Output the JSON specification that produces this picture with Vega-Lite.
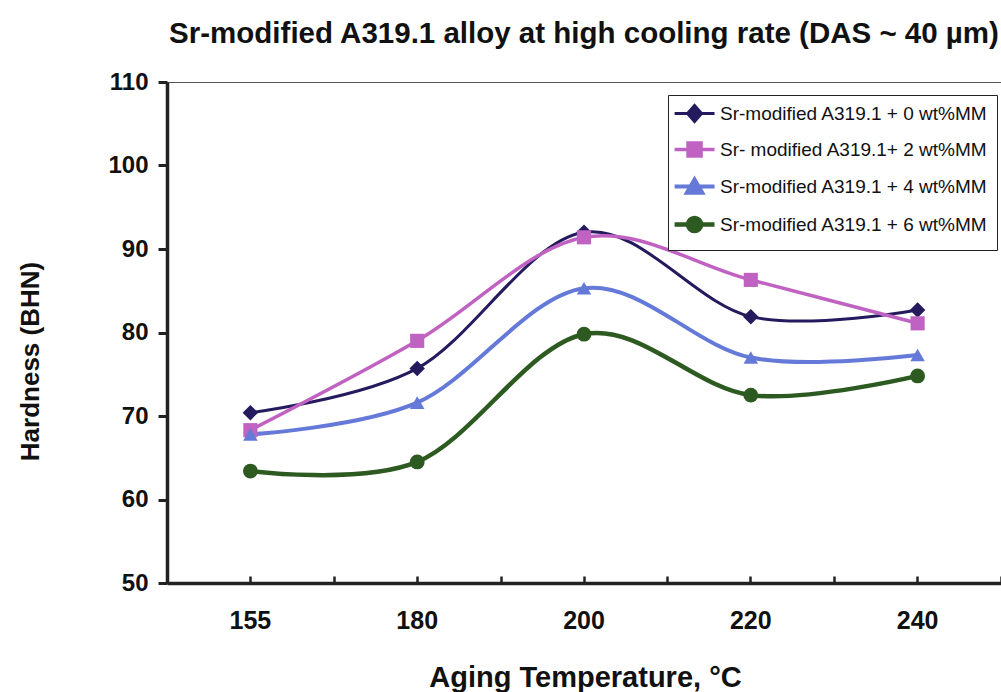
{
  "$schema": "https://vega.github.io/schema/vega-lite/v6.json",
  "width": 834,
  "height": 501,
  "autosize": "none",
  "padding": {"left": 167, "top": 82, "right": 0, "bottom": 109},
  "background": "white",
  "config": {
    "font": "Liberation Sans",
    "view": {"stroke": "#555555", "strokeWidth": 1}
  },
  "title": {
    "text": "Sr-modified A319.1 alloy at high cooling rate (DAS ~ 40 µm)",
    "fontSize": 29.5,
    "fontWeight": "bold",
    "color": "#111111",
    "anchor": "middle",
    "frame": "group",
    "offset": 21
  },
  "data": {
    "values": [
      {"series": "Sr-modified A319.1 + 0 wt%MM", "temp": "155", "hardness": 70.4},
      {"series": "Sr-modified A319.1 + 0 wt%MM", "temp": "180", "hardness": 75.7},
      {"series": "Sr-modified A319.1 + 0 wt%MM", "temp": "200", "hardness": 92.0},
      {"series": "Sr-modified A319.1 + 0 wt%MM", "temp": "220", "hardness": 81.9},
      {"series": "Sr-modified A319.1 + 0 wt%MM", "temp": "240", "hardness": 82.7},
      {"series": "Sr- modified A319.1+ 2 wt%MM", "temp": "155", "hardness": 68.3},
      {"series": "Sr- modified A319.1+ 2 wt%MM", "temp": "180", "hardness": 79.0},
      {"series": "Sr- modified A319.1+ 2 wt%MM", "temp": "200", "hardness": 91.4},
      {"series": "Sr- modified A319.1+ 2 wt%MM", "temp": "220", "hardness": 86.3},
      {"series": "Sr- modified A319.1+ 2 wt%MM", "temp": "240", "hardness": 81.1},
      {"series": "Sr-modified A319.1 + 4 wt%MM", "temp": "155", "hardness": 67.8},
      {"series": "Sr-modified A319.1 + 4 wt%MM", "temp": "180", "hardness": 71.6},
      {"series": "Sr-modified A319.1 + 4 wt%MM", "temp": "200", "hardness": 85.3},
      {"series": "Sr-modified A319.1 + 4 wt%MM", "temp": "220", "hardness": 77.0},
      {"series": "Sr-modified A319.1 + 4 wt%MM", "temp": "240", "hardness": 77.3},
      {"series": "Sr-modified A319.1 + 6 wt%MM", "temp": "155", "hardness": 63.4},
      {"series": "Sr-modified A319.1 + 6 wt%MM", "temp": "180", "hardness": 64.5},
      {"series": "Sr-modified A319.1 + 6 wt%MM", "temp": "200", "hardness": 79.8},
      {"series": "Sr-modified A319.1 + 6 wt%MM", "temp": "220", "hardness": 72.5},
      {"series": "Sr-modified A319.1 + 6 wt%MM", "temp": "240", "hardness": 74.8}
    ]
  },
  "encoding": {
    "y": {
      "field": "hardness",
      "type": "quantitative",
      "scale": {"domain": [50, 110], "nice": false, "zero": false},
      "axis": {
        "title": "Hardness (BHN)",
        "titleFontSize": 26,
        "titleFontWeight": "bold",
        "titleColor": "#111111",
        "titleX": -137,
        "titleY": 279,
        "titleAngle": -90,
        "titleBaseline": "middle",
        "titleAlign": "center",
        "values": [50, 60, 70, 80, 90, 100, 110],
        "labelFontSize": 24,
        "labelFontWeight": "bold",
        "labelColor": "#111111",
        "labelPadding": 10,
        "tickSize": 9,
        "tickWidth": 3,
        "tickColor": "#222222",
        "domainColor": "#222222",
        "domainWidth": 3.5,
        "grid": false
      }
    },
    "color": {
      "field": "series",
      "type": "nominal",
      "scale": {
        "domain": ["Sr-modified A319.1 + 0 wt%MM", "Sr- modified A319.1+ 2 wt%MM", "Sr-modified A319.1 + 4 wt%MM", "Sr-modified A319.1 + 6 wt%MM"],
        "range": ["#241B5E", "#C062C2", "#6479D8", "#2C5A20"]
      }
    }
  },
  "layer": [
    {
      "mark": {"type": "line", "interpolate": "cardinal", "tension": 0},
      "encoding": {
        "x": {
          "field": "temp",
          "type": "ordinal",
          "sort": ["155", "180", "200", "220", "240"],
          "scale": {"type": "band", "paddingInner": 0, "paddingOuter": 0},
          "axis": {
            "orient": "bottom",
            "title": "Aging Temperature, °C",
            "titleFontSize": 29,
            "titleFontWeight": "bold",
            "titleColor": "#111111",
            "titleX": 418,
            "titleY": 103,
            "titleBaseline": "alphabetic",
            "titleAlign": "center",
            "labelFontSize": 25,
            "labelFontWeight": "bold",
            "labelColor": "#111111",
            "labelAngle": 0,
            "labelPadding": 32,
            "tickBand": "center",
            "tickSize": -7,
            "tickWidth": 2.5,
            "tickColor": "#222222",
            "domainColor": "#222222",
            "domainWidth": 3.5,
            "grid": false
          }
        },
        "strokeWidth": {
          "field": "series",
          "type": "nominal",
          "scale": {
            "domain": ["Sr-modified A319.1 + 0 wt%MM", "Sr- modified A319.1+ 2 wt%MM", "Sr-modified A319.1 + 4 wt%MM", "Sr-modified A319.1 + 6 wt%MM"],
            "range": [3, 4.5, 3, 3]
          },
          "legend": null
        }
      }
    },
    {
      "transform": [{"filter": {"field": "series", "equal": "Sr-modified A319.1 + 0 wt%MM"}}],
      "mark": {"type": "point", "shape": "diamond", "filled": true, "size": 240, "opacity": 1},
      "encoding": {
        "x": {
          "field": "temp",
          "type": "ordinal",
          "sort": ["155", "180", "200", "220", "240"],
          "axis": {
            "orient": "bottom",
            "title": null,
            "labels": false,
            "domain": false,
            "grid": false,
            "tickBand": "extent",
            "tickSize": -7,
            "tickWidth": 2.5,
            "tickColor": "#222222"
          }
        }
      }
    },
    {
      "transform": [{"filter": {"field": "series", "equal": "Sr- modified A319.1+ 2 wt%MM"}}],
      "mark": {"type": "point", "shape": "square", "filled": true, "size": 200, "opacity": 1},
      "encoding": {
        "x": {"field": "temp", "type": "ordinal", "sort": ["155", "180", "200", "220", "240"], "axis": null}
      }
    },
    {
      "transform": [{"filter": {"field": "series", "equal": "Sr-modified A319.1 + 4 wt%MM"}}],
      "mark": {"type": "point", "shape": "triangle-up", "filled": true, "size": 210, "opacity": 1},
      "encoding": {
        "x": {"field": "temp", "type": "ordinal", "sort": ["155", "180", "200", "220", "240"], "axis": null}
      }
    },
    {
      "transform": [{"filter": {"field": "series", "equal": "Sr-modified A319.1 + 6 wt%MM"}}],
      "mark": {"type": "point", "shape": "circle", "filled": true, "size": 220, "opacity": 1},
      "encoding": {
        "x": {"field": "temp", "type": "ordinal", "sort": ["155", "180", "200", "220", "240"], "axis": null}
      }
    },
    {
      "transform": [{"filter": {"field": "series", "equal": "__none__"}}],
      "mark": {"type": "point", "filled": true, "opacity": 1},
      "encoding": {
        "x": {"field": "temp", "type": "ordinal", "sort": ["155", "180", "200", "220", "240"], "axis": null},
        "color": {
          "field": "series",
          "type": "nominal",
          "legend": {
            "title": null,
            "orient": "none",
            "legendX": 501,
            "legendY": 13,
            "labelFontSize": 19,
            "labelColor": "#111111",
            "labelLimit": 400,
            "symbolSize": 196,
            "symbolStrokeWidth": 3,
            "symbolOpacity": 1,
            "labelOffset": 24,
            "rowPadding": 7,
            "padding": 9,
            "strokeColor": "#222222",
            "fillColor": "white",
            "encode": {"symbols": {"update": {"stroke": {"scale": "color", "field": "value"}, "strokeWidth": {"value": 3}}}}
          }
        },
        "shape": {
          "field": "series",
          "type": "nominal",
          "scale": {
            "domain": ["Sr-modified A319.1 + 0 wt%MM", "Sr- modified A319.1+ 2 wt%MM", "Sr-modified A319.1 + 4 wt%MM", "Sr-modified A319.1 + 6 wt%MM"],
            "range": [
              "M-1.7,0H4M1.15,-1.15L2.15,0L1.15,1.15L0.15,0Z",
              "M-1.7,0H4M0.22,-0.93H2.08V0.93H0.22Z",
              "M-1.7,0H4M1.15,-1L2.25,0.9H0.05Z",
              "M-1.7,0H4M0.22,0A0.93,0.93 0 1,0 2.08,0A0.93,0.93 0 1,0 0.22,0Z"
            ]
          },
          "legend": {
            "title": null,
            "orient": "none",
            "legendX": 501,
            "legendY": 13,
            "labelFontSize": 19,
            "labelColor": "#111111",
            "labelLimit": 400,
            "symbolSize": 196,
            "symbolStrokeWidth": 3,
            "symbolOpacity": 1,
            "labelOffset": 24,
            "rowPadding": 7,
            "padding": 9,
            "strokeColor": "#222222",
            "fillColor": "white",
            "encode": {"symbols": {"update": {"stroke": {"scale": "color", "field": "value"}, "strokeWidth": {"value": 3}}}}
          }
        }
      }
    }
  ],
  "resolve": {"axis": {"x": "independent"}}
}
